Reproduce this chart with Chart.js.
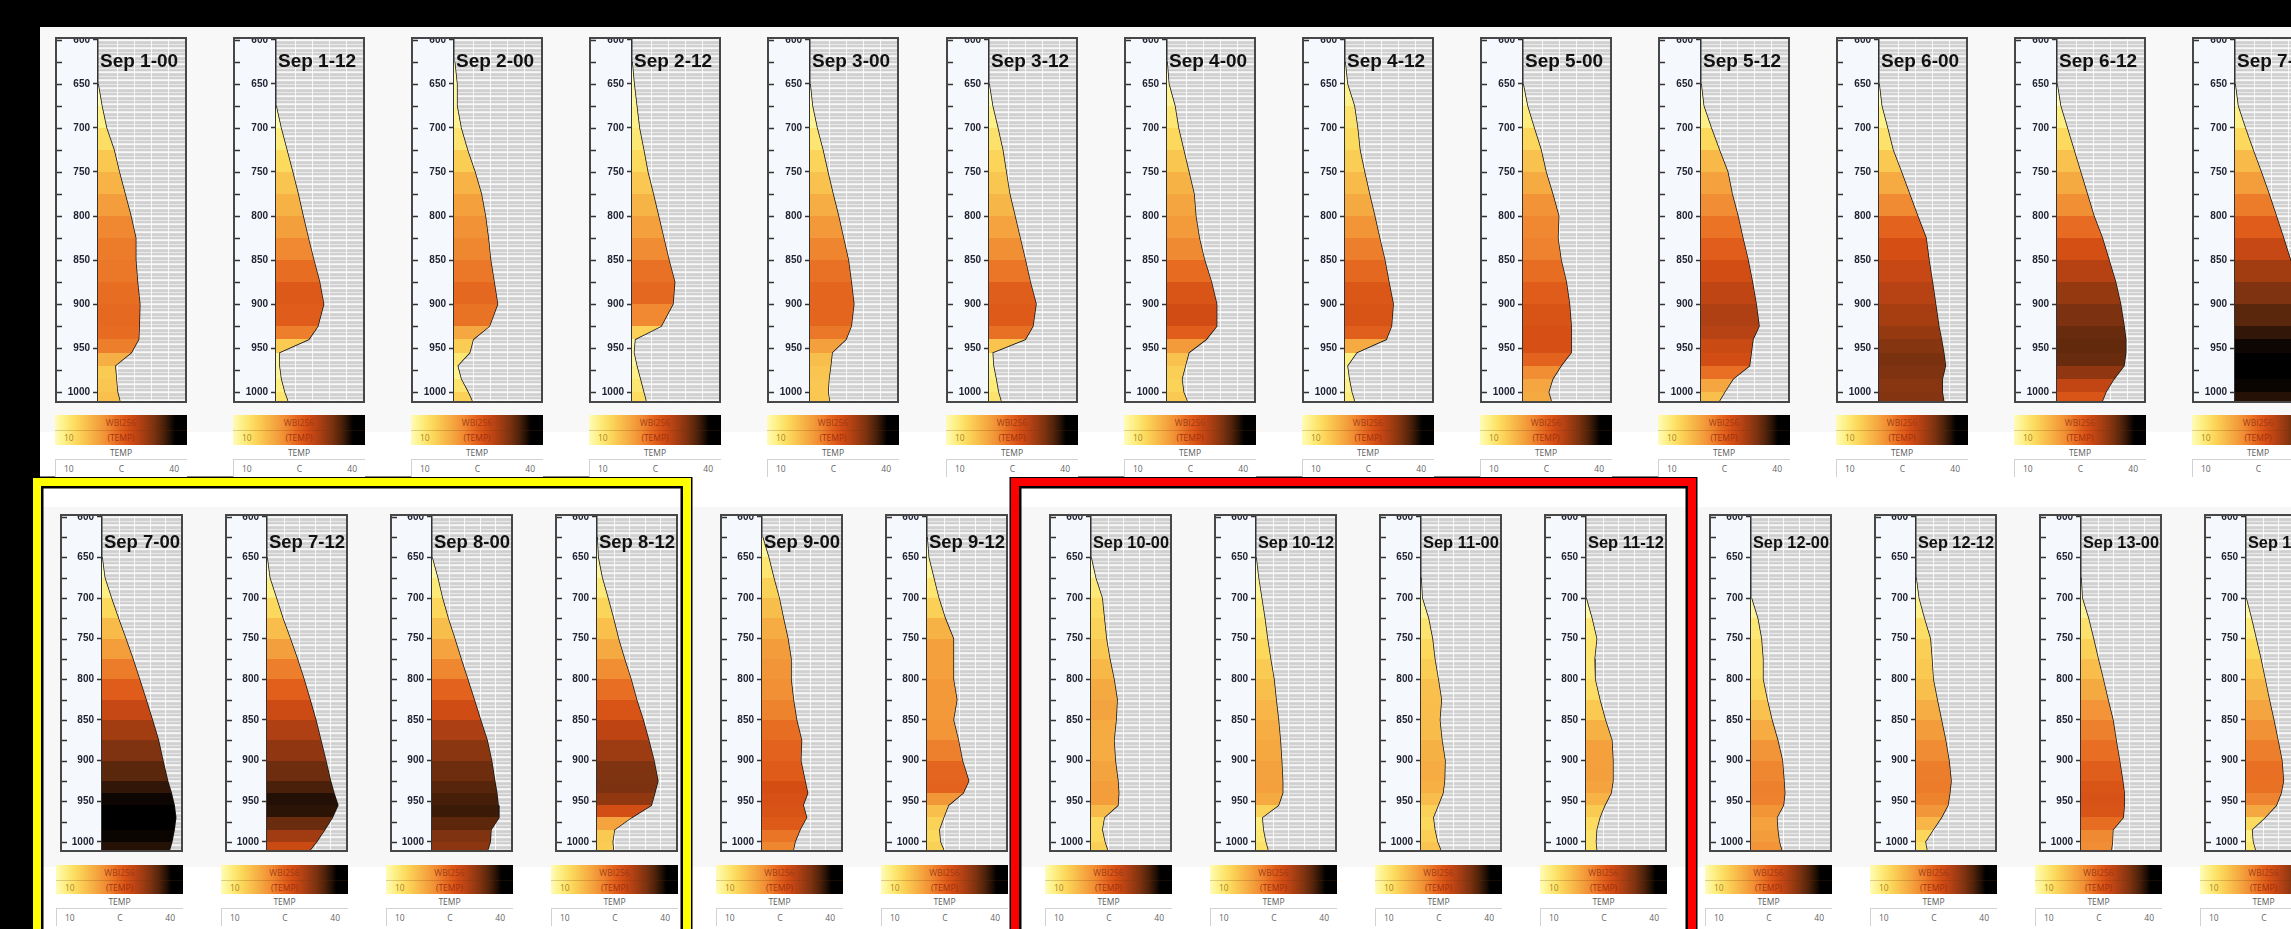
<!DOCTYPE html>
<html>
<head>
<meta charset="utf-8">
<script src="https://cdn.jsdelivr.net/npm/chart.js@4.4.1/dist/chart.umd.min.js"></script>
<style>
  body { margin:0; width:2291px; height:929px; background:#000; overflow:hidden; position:relative; font-family:"Liberation Sans", Arial, sans-serif; }
  .abs { position:absolute; }
  .frame { position:absolute; box-sizing:border-box; border:2px solid #474747; background:#f5f8fd; }
  .frame canvas { display:block; }
  .cb { position:absolute; font-family:"Open Sans", sans-serif; font-size:8.5px; }
  .cb .grad { position:relative; }
  .cb .grad .mid { position:absolute; left:0; right:0; top:50%; height:1px; background:rgba(110,50,10,.22); }
  .cb .grad span { position:absolute; line-height:1; }
  .cb .row1 { background:#fff; color:#5a5a5a; text-align:center; }
  .cb .sep { height:1px; background:#d2d2d2; }
  .cb .row2 { background:#fff; color:#666; position:relative; border-left:1px solid #d2d2d2; }
  .cb .row2 span { position:absolute; top:3px; }
</style>
</head>
<body>
<div id="bg"></div>
<div id="panels"></div>
<script>
// --- data: temperature (C) at each pressure level (hPa)
const levels = [625, 650, 675, 700, 725, 750, 775, 800, 825, 850, 875, 900, 925, 940, 955, 970, 985, 1000, 1010];
const yTicks = [600, 625, 650, 675, 700, 725, 750, 775, 800, 825, 850, 875, 900, 925, 950, 975, 1000];
const gridTemps = [16.7, 22.5, 28.6, 34.3];
const tMin = 10, tMax = 40, pMin = 599, pMax = 1010;

const sep01_00 = [null, 9.5, 11.3, 12.9, 15.5, 17.3, 19.3, 21.3, 23.0, 23.0, 23.6, 24.4, 24.2, 24.0, 21.5, 15.9, 16.3, 16.7, 17.5];
const sep01_12 = [null, null, 9.5, 11.7, 13.7, 15.7, 17.6, 19.3, 21.1, 23.0, 25.0, 26.4, 24.4, 21.3, 11.1, 11.1, 11.7, 12.9, 14.0];
const sep02_00 = [10.2, 11.0, 11.0, 12.4, 14.6, 17.2, 19.4, 20.8, 21.8, 22.6, 23.8, 25.0, 22.2, 16.6, 15.4, 11.2, 12.4, 14.8, 16.2];
const sep02_12 = [9.6, 10.7, 11.6, 12.5, 14.0, 15.4, 17.3, 19.1, 20.9, 22.7, 24.7, 24.1, 20.0, 11.0, 10.6, 11.6, 12.8, 14.0, 14.8];
const sep03_00 = [null, 9.5, 10.8, 12.4, 14.4, 16.1, 17.9, 19.8, 21.5, 23.2, 24.2, 25.1, 24.2, 22.4, 17.6, 17.1, 16.5, 16.2, 16.7];
const sep03_12 = [null, 8.5, 11.2, 13.0, 14.7, 15.9, 17.1, 18.9, 20.7, 22.5, 24.2, 26.2, 25.1, 22.5, 11.2, 11.5, 12.4, 13.2, 14.1];
const sep04_00 = [9.0, 10.6, 12.7, 13.9, 15.7, 17.5, 19.3, 19.9, 21.1, 22.9, 25.3, 27.1, 27.1, 23.5, 17.5, 16.3, 15.1, 15.7, 16.9];
const sep04_12 = [9.0, 10.8, 13.2, 14.3, 15.1, 16.7, 18.4, 20.2, 21.9, 23.7, 25.1, 26.6, 26.0, 24.2, 14.0, 10.8, 11.4, 12.3, 13.2];
const sep05_00 = [null, 9.5, 11.5, 13.8, 16.2, 17.9, 20.2, 22.3, 22.0, 23.1, 24.9, 26.0, 26.6, 26.6, 26.6, 23.1, 20.2, 18.8, 19.7];
const sep05_12 = [null, 8.0, 10.9, 13.5, 16.3, 19.2, 20.7, 22.7, 24.4, 26.2, 27.7, 29.0, 30.0, 27.9, 27.3, 26.7, 21.0, 18.1, 16.3];
const sep06_00 = [null, 8.0, 10.9, 12.9, 14.8, 17.7, 20.5, 23.3, 26.2, 27.2, 28.4, 29.5, 30.6, 31.5, 32.3, 32.9, 31.8, 31.8, 32.3];
const sep06_12 = [null, 8.0, 11.2, 13.5, 15.8, 18.1, 20.4, 22.7, 25.6, 27.9, 30.2, 31.9, 33.1, 33.7, 33.7, 33.1, 29.6, 26.8, 25.6];
const sep07_00 = [null, 8.0, 11.0, 13.5, 16.2, 19.0, 21.7, 24.2, 26.7, 29.1, 31.4, 33.1, 34.9, 36.3, 37.4, 38.0, 37.4, 36.5, 35.6];
const sep07_12 = [null, 8.0, 11.0, 13.5, 16.0, 18.8, 21.5, 24.0, 26.3, 28.5, 30.4, 32.3, 34.1, 35.4, 36.9, 34.8, 31.9, 28.8, 26.3];
const sep08_00 = [null, 9.8, 12.1, 13.9, 16.1, 18.6, 21.0, 23.5, 26.0, 28.4, 30.9, 32.6, 33.8, 34.6, 35.1, 35.4, 32.4, 32.1, 31.1];
const sep08_12 = [9.5, 10.4, 11.9, 14.1, 16.2, 18.1, 20.4, 22.9, 25.0, 27.5, 29.6, 31.6, 33.1, 31.9, 30.6, 23.1, 16.6, 15.9, 16.2];
const sep09_00 = [10.2, 12.5, 14.4, 16.5, 18.1, 19.8, 21.0, 21.0, 21.9, 23.1, 25.0, 24.7, 26.3, 27.3, 25.6, 26.9, 24.4, 22.5, 21.9];
const sep09_12 = [9.3, 10.6, 12.5, 14.4, 16.9, 20.0, 20.0, 20.0, 21.3, 20.0, 21.9, 23.4, 25.8, 23.7, 18.1, 16.3, 14.6, 15.0, 16.3];
const sep10_00 = [null, 9.5, 11.7, 14.2, 15.0, 15.8, 17.1, 18.7, 19.9, 19.5, 18.7, 19.2, 20.2, 20.5, 20.2, 15.0, 14.2, 15.2, 16.2];
const sep10_12 = [null, 8.5, 10.9, 12.1, 13.3, 14.3, 15.5, 16.8, 17.6, 18.5, 19.2, 19.7, 20.1, 20.1, 18.5, 12.3, 12.7, 13.6, 14.5];
const sep11_00 = [null, null, 9.2, 10.4, 12.8, 14.3, 15.2, 16.5, 17.7, 17.1, 17.9, 19.1, 18.9, 18.3, 16.5, 14.6, 15.2, 16.2, 17.4];
const sep11_12 = [null, null, null, 9.5, 12.2, 14.0, 13.2, 13.4, 15.2, 17.3, 19.8, 20.2, 20.2, 19.5, 17.1, 15.2, 14.0, 13.7, 14.0];
const sep12_00 = [null, null, null, 10.1, 12.5, 13.9, 14.5, 14.5, 16.1, 17.9, 20.1, 21.9, 22.5, 22.8, 22.3, 19.8, 20.1, 20.7, 21.6];
const sep12_12 = [null, null, 9.5, 11.0, 13.1, 15.4, 16.0, 16.5, 18.0, 19.6, 21.2, 22.5, 23.3, 22.8, 22.1, 19.6, 16.5, 13.5, 14.1];
const sep13_00 = [null, null, 9.5, 10.4, 12.8, 14.7, 16.5, 18.4, 20.2, 22.1, 23.3, 24.6, 25.8, 26.4, 26.4, 26.0, 22.1, 21.9, 21.5];
const sep13_12 = [null, null, null, 10.0, 12.0, 13.8, 15.6, 17.2, 18.8, 20.5, 22.1, 23.6, 24.2, 23.3, 21.5, 17.2, 12.2, 12.6, 13.5];

const topNames = ["Sep 1-00","Sep 1-12","Sep 2-00","Sep 2-12","Sep 3-00","Sep 3-12","Sep 4-00","Sep 4-12","Sep 5-00","Sep 5-12","Sep 6-00","Sep 6-12","Sep 7-00"];
const bottomNames = ["Sep 7-00","Sep 7-12","Sep 8-00","Sep 8-12","Sep 9-00","Sep 9-12","Sep 10-00","Sep 10-12","Sep 11-00","Sep 11-12","Sep 12-00","Sep 12-12","Sep 13-00","Sep 13-12"];
const profiles = {
  "Sep 1-00": sep01_00, "Sep 1-12": sep01_12, "Sep 2-00": sep02_00, "Sep 2-12": sep02_12,
  "Sep 3-00": sep03_00, "Sep 3-12": sep03_12, "Sep 4-00": sep04_00, "Sep 4-12": sep04_12,
  "Sep 5-00": sep05_00, "Sep 5-12": sep05_12, "Sep 6-00": sep06_00, "Sep 6-12": sep06_12,
  "Sep 7-00": sep07_00, "Sep 7-12": sep07_12, "Sep 8-00": sep08_00, "Sep 8-12": sep08_12,
  "Sep 9-00": sep09_00, "Sep 9-12": sep09_12, "Sep 10-00": sep10_00, "Sep 10-12": sep10_12,
  "Sep 11-00": sep11_00, "Sep 11-12": sep11_12, "Sep 12-00": sep12_00, "Sep 12-12": sep12_12,
  "Sep 13-00": sep13_00, "Sep 13-12": sep13_12
};

// WBI256 colour scale (10 .. 40 C)
const cmapPos = [0, 0.08, 0.16, 0.25, 0.33, 0.40, 0.45, 0.50, 0.56, 0.62, 0.68, 0.75, 0.82, 0.87, 0.91, 1];
const cmapCol = ["#fffcb8","#fdee80","#fcd95c","#f8bc4a","#f4a23e","#f08a32","#ea7426","#e2601c","#d44e14","#bd4414","#a03c12","#7c3210","#4e220a","#241005","#000000","#000000"];

// --- layout
const TOP = { y: 37, h: 366, w: 132, strip: 41, x0: 55, dx: 178.1, cbY: 415, cbH: 30, cbDx: 0, cbW: 132, titleY: 28 };
const BOT = { y: 514, h: 338, w: 123, strip: 40, x0: 60, dx: 164.9, cbY: 865, cbH: 29, cbDx: -4, cbW: 127, titleY: 32 };

// --- helpers
function hex2rgb(h){ return [1,3,5].map(i => parseInt(h.substr(i,2),16)); }
function tempColor(t){
  let f = (t - tMin) / (tMax - tMin);
  f = Math.max(0, Math.min(1, f));
  for (let i = 1; i < cmapPos.length; i++) {
    if (f <= cmapPos[i]) {
      const a = hex2rgb(cmapCol[i-1]), b = hex2rgb(cmapCol[i]);
      const k = (f - cmapPos[i-1]) / (cmapPos[i] - cmapPos[i-1] || 1);
      return `rgb(${a.map((v,j)=>Math.round(v + (b[j]-v)*k)).join(",")})`;
    }
  }
  return cmapCol[cmapCol.length-1];
}
const cssGradient = "linear-gradient(to right," + cmapPos.map((p,i)=>`${cmapCol[i]} ${(p*100).toFixed(1)}%`).join(",") + ")";

function bandGradient(chart, pts){
  const {ctx, chartArea, scales} = chart;
  if (!chartArea) return "rgba(0,0,0,0)";
  const top = chartArea.top, h = chartArea.bottom - chartArea.top;
  const g = ctx.createLinearGradient(0, top, 0, chartArea.bottom);
  const f = v => Math.min(1, Math.max(0, (scales.y.getPixelForValue(v) - top) / h));
  for (let k = 0; k < pts.length - 1; k++) {
    const c = tempColor((pts[k].t + pts[k+1].t) / 2);
    g.addColorStop(f(pts[k].y), c);
    g.addColorStop(f(pts[k+1].y), c);
  }
  return g;
}

// striped grey plot background
function makePattern(){
  const c = document.createElement("canvas");
  c.width = 4; c.height = 8;
  const x = c.getContext("2d");
  const rows = ["#eeeeee","#f7f7f7","#d6d6d6","#cfcfcf","#d2d2d2","#e7e7e7","#d3d3d3","#cdcdcd"];
  rows.forEach((col,i) => { x.fillStyle = col; x.fillRect(0,i,4,1); });
  return c;
}
const patternCanvas = makePattern();

const plotBg = {
  id: "plotBg",
  beforeDraw(chart){
    const {ctx, chartArea:a} = chart;
    ctx.save();
    ctx.fillStyle = ctx.createPattern(patternCanvas, "repeat");
    ctx.fillRect(a.left, a.top, a.right - a.left, a.bottom - a.top);
    ctx.restore();
  }
};

const frameTicks = {
  id: "frameTicks",
  afterDraw(chart){
    const {ctx, scales} = chart;
    ctx.save();
    ctx.strokeStyle = "#333"; ctx.lineWidth = 1.5;
    yTicks.forEach(v => {
      const y = Math.round(scales.y.getPixelForValue(v)) + 0.5;
      ctx.beginPath(); ctx.moveTo(0, y); ctx.lineTo(5, y); ctx.stroke();
    });
    ctx.restore();
  }
};

function titlePlugin(name, baseY){
  return {
    id: "panelTitle",
    afterDraw(chart){
      const {ctx, chartArea:a} = chart;
      ctx.save();
      let size = 19;
      ctx.font = `bold ${size}px "Liberation Sans", Arial, sans-serif`;
      const avail = a.right - a.left - 3;
      const w = ctx.measureText(name).width;
      if (w > avail) { size = size * avail / w; ctx.font = `bold ${size.toFixed(2)}px "Liberation Sans", Arial, sans-serif`; }
      ctx.fillStyle = "#111";
      ctx.textBaseline = "alphabetic";
      ctx.fillText(name, a.left + 2, baseY);
      ctx.restore();
    }
  };
}

function makePanel(parent, name, left, cfg){
  const temps = profiles[name];
  const frame = document.createElement("div");
  frame.className = "frame";
  Object.assign(frame.style, { left: left + "px", top: cfg.y + "px", width: cfg.w + "px", height: cfg.h + "px" });
  const cv = document.createElement("canvas");
  const W = cfg.w - 4, H = cfg.h - 4;
  cv.width = W; cv.height = H;
  cv.style.width = W + "px"; cv.style.height = H + "px";
  frame.appendChild(cv);
  parent.appendChild(frame);

  const pts = [];
  levels.forEach((p, k) => {
    const t = temps[k];
    if (t == null) return;
    pts.push({ x: Math.max(t, tMin), y: p, t });
  });
  const shape = pts.map(p => ({x: p.x, y: p.y})).concat([{x: tMin, y: pMax}, {x: tMin, y: pts[0].y}]);

  new Chart(cv, {
    type: "line",
    data: {
      datasets: [
        { data: shape, fill: "shape", borderWidth: 0, borderColor: "rgba(0,0,0,0)", pointRadius: 0, tension: 0,
          backgroundColor: ctx => bandGradient(ctx.chart, pts) },
        { data: pts.map(p => ({x: p.x, y: p.y})), fill: false, borderColor: "#141414", borderWidth: 1.5, pointRadius: 0, tension: 0 }
      ]
    },
    options: {
      animation: false, responsive: false, maintainAspectRatio: false, events: [],
      layout: { padding: 0 },
      plugins: { legend: { display: false }, tooltip: { enabled: false }, title: { display: false } },
      scales: {
        x: {
          type: "linear", min: tMin, max: tMax, position: "bottom",
          afterBuildTicks: s => { s.ticks = gridTemps.map(v => ({ value: v })); },
          afterFit: s => { s.height = 0; s.paddingLeft = 0; s.paddingRight = 0; },
          ticks: { display: false },
          border: { display: false },
          grid: { drawTicks: false, color: "rgba(255,255,255,0.85)", lineWidth: 1 }
        },
        y: {
          type: "linear", reverse: true, min: pMin, max: pMax, position: "left",
          afterBuildTicks: s => { s.ticks = yTicks.map(v => ({ value: v })); },
          afterFit: s => { s.width = cfg.strip; s.paddingTop = 0; s.paddingBottom = 0; },
          ticks: {
            autoSkip: false, padding: 3, color: "#232333",
            font: { family: "'Liberation Sans', Arial, sans-serif", size: 10, weight: "bold" },
            callback: v => (v % 50 === 0 ? String(v) : "")
          },
          grid: {
            drawOnChartArea: false, tickLength: 5, tickWidth: 1.5,
            tickColor: c => (c.tick && c.tick.value % 50 === 0 ? "#333" : "rgba(0,0,0,0)")
          },
          border: { display: true, color: "#333", width: 1.5 }
        }
      }
    },
    plugins: [plotBg, frameTicks, titlePlugin(name, cfg.titleY)]
  });

  // colour bar under the panel
  const cb = document.createElement("div");
  cb.className = "cb";
  Object.assign(cb.style, { left: (left + cfg.cbDx) + "px", top: cfg.cbY + "px", width: cfg.cbW + "px" });
  cb.innerHTML = `
    <div class="grad" style="height:${cfg.cbH}px;background:${cssGradient}">
      <div class="mid"></div>
      <span style="left:0;right:0;text-align:center;top:4px;color:rgba(150,55,20,.9)">WBI256</span>
      <span style="left:9px;top:${cfg.cbH/2 + 4}px;color:rgba(170,120,30,.95)">10</span>
      <span style="left:0;right:0;text-align:center;top:${cfg.cbH/2 + 4}px;color:rgba(150,45,15,.9)">(TEMP)</span>
    </div>
    <div class="row1" style="height:14px;line-height:15px">TEMP</div>
    <div class="sep"></div>
    <div class="row2" style="height:17px">
      <span style="left:8px">10</span>
      <span style="left:0;right:0;text-align:center">C</span>
      <span style="right:8px">40</span>
    </div>`;
  parent.appendChild(cb);
}

// --- backgrounds and highlight boxes
const bg = document.getElementById("bg");
function rect(l, t, w, h, style){
  const d = document.createElement("div");
  d.className = "abs";
  Object.assign(d.style, { left: l + "px", top: t + "px", width: w + "px", height: h + "px" }, style || {});
  bg.appendChild(d);
  return d;
}
rect(40, 27, 2251, 405, { background: "#f8f8f8" });
rect(40, 432, 2251, 46, { background: "#ffffff" });
rect(33, 477, 2258, 30, { background: "#ffffff" });
rect(33, 507, 2258, 360, { background: "#f7f7f7" });
rect(33, 867, 2258, 62, { background: "#ffffff" });
// yellow and red frames
rect(33, 478, 658, 470, { boxSizing: "border-box", border: "8px solid #ffff00", boxShadow: "0 0 0 1.5px #000, inset 0 0 0 2.5px #000" });
rect(1011, 478, 685, 470, { boxSizing: "border-box", border: "8px solid #ff0000", boxShadow: "0 0 0 1.5px #000, inset 0 0 0 2.5px #000" });

// --- panels
const panels = document.getElementById("panels");
topNames.forEach((n, i) => makePanel(panels, n, Math.round(TOP.x0 + TOP.dx * i), TOP));
bottomNames.forEach((n, j) => makePanel(panels, n, Math.round(BOT.x0 + BOT.dx * j), BOT));
</script>
</body>
</html>
